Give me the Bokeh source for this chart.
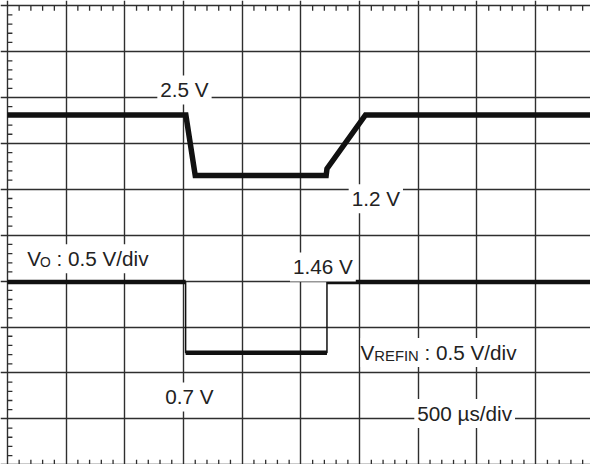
from bokeh.plotting import figure
from bokeh.models import Range1d, Label, Grid, FixedTicker
from bokeh.embed import file_html
from bokeh.resources import INLINE

# ---------------- data ----------------
# time axis: 500 us/div, 10 divisions; vertical: screen divisions (0..10)
us_per_div = 500
x_grid_us = [0, 500, 1000, 1500, 2000, 2500, 3000, 3500, 4000, 4500, 5000]
y_grid_div = [0, 1, 2, 3, 4, 5, 6, 7, 8, 9, 10]
minor_per_div = 5

# Vo trace (0.5 V/div): 2.5 V -> 1.2 V -> 2.5 V
vo_t_us = [0, 1520, 1600, 2715, 2722, 3050, 5000]
vo_div = [7.62, 7.62, 6.30, 6.30, 6.45, 7.62, 7.62]

# VREFIN trace (0.5 V/div): 1.46 V -> 0.7 V -> 1.46 V
vref_t_us = [0, 1518, 1518, 2722, 2722, 5000]
vref_div = [3.98, 3.98, 2.44, 2.44, 3.98, 3.98]

GRID = "#2e2e2e"
TRACE = "#111111"
TXT = "#222222"
FONT = "Liberation Sans"
FS = "20.7px"

PX_PER_US = 0.1174   # horizontal scale (58.7 px per division)
PX_PER_DIV = 45.91   # vertical scale

p = figure(width=590, height=464,
           x_range=Range1d(-58.8, 4966.8), y_range=Range1d(0.0065, 10.113),
           x_axis_location=None, y_axis_location=None,
           toolbar_location=None, output_backend="svg", min_border=0)
p.outline_line_color = None
p.background_fill_color = "white"
p.border_fill_color = "white"

p.add_layout(Grid(dimension=0, ticker=FixedTicker(ticks=x_grid_us),
                  grid_line_color=GRID, grid_line_width=1.4))
p.add_layout(Grid(dimension=1, ticker=FixedTicker(ticks=y_grid_div),
                  grid_line_color=GRID, grid_line_width=1.4))

# minor ticks on top, bottom and left borders
xm = [i * us_per_div / minor_per_div for i in range(0, 10 * minor_per_div + 1) if i % minor_per_div]
ym = [i / minor_per_div for i in range(0, 10 * minor_per_div + 1) if i % minor_per_div]
tick_v = 5 / PX_PER_DIV
tick_h = 5 / PX_PER_US
top = y_grid_div[-1]
bot = y_grid_div[0]
p.segment(x0=xm, y0=[top] * len(xm), x1=xm, y1=[top - tick_v] * len(xm),
          line_color=GRID, line_width=1.3)
p.segment(x0=xm, y0=[bot] * len(xm), x1=xm, y1=[bot + tick_v] * len(xm),
          line_color=GRID, line_width=1.3)
p.segment(x0=[0] * len(ym), y0=ym, x1=[tick_h] * len(ym), y1=ym,
          line_color=GRID, line_width=1.3)

# traces
p.line(vo_t_us, vo_div, line_color=TRACE, line_width=5.5, line_join="miter")
p.line(vref_t_us, vref_div, line_color=TRACE, line_width=1.5)
fx0, fx1, fy = [], [], []
for i in range(len(vref_t_us) - 1):
    if vref_div[i] == vref_div[i + 1]:
        fx0.append(vref_t_us[i]); fx1.append(vref_t_us[i + 1]); fy.append(vref_div[i])
p.segment(x0=fx0, y0=fy, x1=fx1, y1=fy, line_color=TRACE, line_width=4.5, line_cap="butt")


def lab(x, y, text, size=FS, xoff=0, yoff=0, pad=None):
    kw = dict(x=x, y=y, text=text, text_font=FONT, text_font_size=size,
              text_color=TXT, text_align="left", text_baseline="alphabetic",
              x_offset=xoff, y_offset=yoff)
    if pad is not None:
        kw.update(background_fill_color="white", padding=pad)
    p.add_layout(Label(**kw))

box = dict(left=3, right=3, top=3, bottom=3)
lab(1277, 8.165, "2.5 V", pad=box)
lab(2907, 5.794, "1.2 V", pad=box)
lab(2407, 4.31, "1.46 V", pad=box)
lab(1319, 1.478, "0.7 V", pad=box)
lab(3466, 1.12, "500 \u00b5s/div", pad=box)

# Vo : 0.5 V/div  (small-caps subscript O)
lab(160, 4.488, "V", pad=dict(left=1, right=115, top=3, bottom=3))
lab(160, 4.488, "O", size="13.8px", xoff=13.8, yoff=-4)
lab(160, 4.488, ": 0.5 V/div", xoff=30.3)

# VREFIN : 0.5 V/div
lab(3008, 2.448, "V", pad=dict(left=0, right=150, top=3, bottom=3))
lab(3008, 2.448, "REFIN", size="14.8px", xoff=13.8, yoff=-4)
lab(3008, 2.448, ": 0.5 V/div", xoff=64)

open("out.html", "w").write(file_html(p, INLINE))
